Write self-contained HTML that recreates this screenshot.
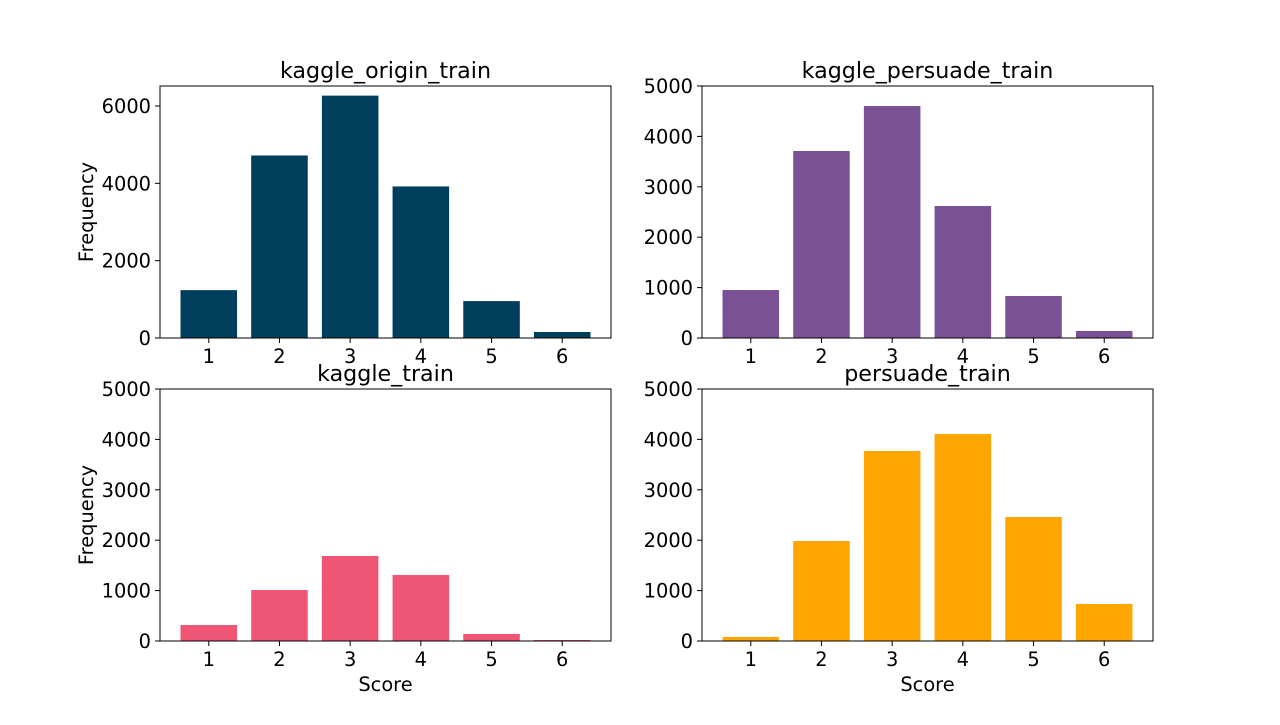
<!DOCTYPE html>
<html><head><meta charset="utf-8"><style>
body{margin:0;background:#fff;}
svg text{font-family:"DejaVu Sans","Liberation Sans",sans-serif;fill:#000;}
</style></head><body>
<svg id="chart" width="1280" height="720"></svg>
<script>
const categories = [1,2,3,4,5,6];
const originValues = [1238,4720,6268,3920,954,155];
const persuadeTrainValues = [952,3710,4603,2619,833,139];
const kaggleTrainValues = [317,1012,1687,1310,139,20];
const persuadeValues = [80,1984,3770,4107,2460,734];
const yTicksTop = [0,2000,4000,6000];
const yTicks5000 = [0,1000,2000,3000,4000,5000];

const panels = [
 {name:'kaggle-origin-train', title:'kaggle_origin_train', vals:originValues, ticks:yTicksTop, ymax:6517, color:'#003f5c', x:160, y:86, ylab:true, xlab:false},
 {name:'kaggle-persuade-train', title:'kaggle_persuade_train', vals:persuadeTrainValues, ticks:yTicks5000, ymax:5000, color:'#7a5195', x:702, y:86, ylab:false, xlab:false},
 {name:'kaggle-train', title:'kaggle_train', vals:kaggleTrainValues, ticks:yTicks5000, ymax:5000, color:'#ef5675', x:160, y:389, ylab:true, xlab:true},
 {name:'persuade-train', title:'persuade_train', vals:persuadeValues, ticks:yTicks5000, ymax:5000, color:'#ffa600', x:702, y:389, ylab:false, xlab:true},
];
const W=451,H=252,NS='http://www.w3.org/2000/svg';
const svg=document.getElementById('chart');
function mk(tag,attrs,parent,text){const e=document.createElementNS(NS,tag);for(const k in attrs)e.setAttribute(k,attrs[k]);if(text!==undefined)e.textContent=text;parent.appendChild(e);return e;}
panels.forEach(p=>{
 const g=mk('g',{},svg);
 
 
 const xmin=0.31,xmax=6.69;
 const xs=v=>p.x+(v-xmin)/(xmax-xmin)*W;
 const ys=v=>p.y+H-v/p.ymax*H;
 p.vals.forEach((v,i)=>{
  const c=categories[i];
  const r=mk('rect',{x:xs(c-0.4),y:ys(v),width:xs(c+0.4)-xs(c-0.4),height:ys(0)-ys(v),fill:p.color},g);
  
  
 });
 const f=mk('rect',{x:p.x,y:p.y,width:W,height:H,fill:'none',stroke:'#000','stroke-width':1},g);
 
 
 p.ticks.forEach(t=>{
  const y=ys(t);
  mk('line',{x1:p.x-5,x2:p.x,y1:y,y2:y,stroke:'#000'},g);
  const tl=mk('text',{x:p.x-9,y:y+7,'text-anchor':'end','font-size':19.4},g,String(t));
  
  
 });
 categories.forEach(c=>{
  const x=xs(c);
  mk('line',{x1:x,x2:x,y1:p.y+H,y2:p.y+H+5,stroke:'#000'},g);
  const tl=mk('text',{x:x,y:p.y+H+25,'text-anchor':'middle','font-size':19.4},g,String(c));
  
  
 });
 const t=mk('text',{x:p.x+W/2,y:p.y-8,'text-anchor':'middle','font-size':22.2},g,p.title);
 
 
 if(p.ylab){
  const yl=mk('text',{x:0,y:0,'text-anchor':'middle','font-size':19.4,transform:`translate(${p.x-67},${p.y+H/2}) rotate(-90)`},g,'Frequency');
  
  
 }
 if(p.xlab){
  const xl=mk('text',{x:p.x+W/2,y:p.y+H+50,'text-anchor':'middle','font-size':19.4},g,'Score');
  
  
 }
});
</script>
</body></html>
